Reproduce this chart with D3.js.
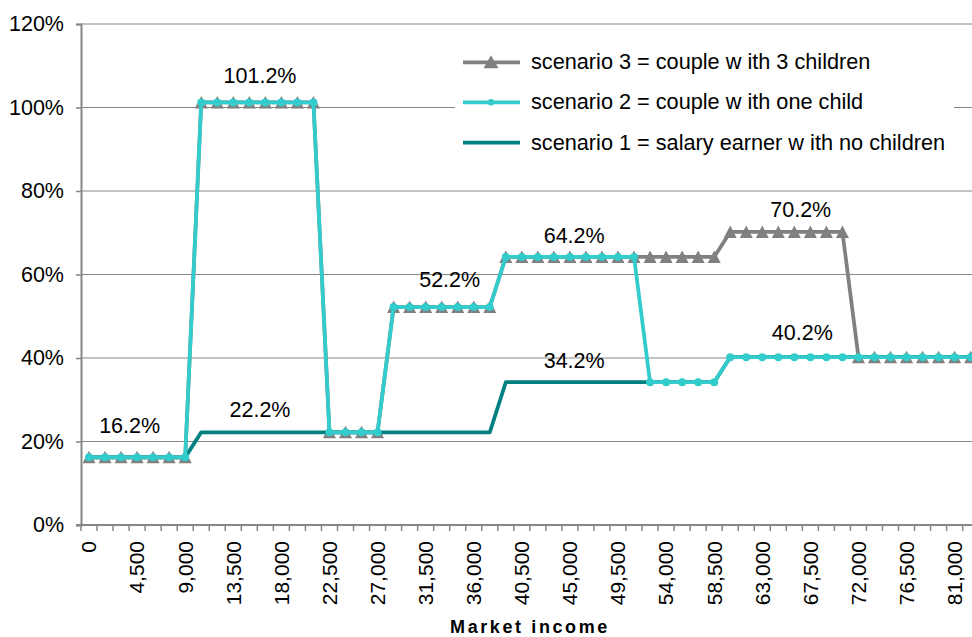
<!DOCTYPE html>
<html>
<head>
<meta charset="utf-8">
<script src="https://cdn.jsdelivr.net/npm/d3@7"></script>
<style>
  html, body { margin: 0; padding: 0; background: #fff; }
  svg { display: block; font-family: "Liberation Sans", Arial, sans-serif; }
</style>
</head>
<body>
<svg id="chart" width="972" height="637"></svg>
<script>
// ---------- DATA ----------
const incomes = [0,1500,3000,4500,6000,7500,9000,10500,12000,13500,15000,16500,18000,19500,21000,22500,24000,25500,27000,28500,30000,31500,33000,34500,36000,37500,39000,40500,42000,43500,45000,46500,48000,49500,51000,52500,54000,55500,57000,58500,60000,61500,63000,64500,66000,67500,69000,70500,72000,73500,75000,76500,78000,79500,81000,82500];

const scenario1 = [16.2,16.2,16.2,16.2,16.2,16.2,16.2,
  22.2,22.2,22.2,22.2,22.2,22.2,22.2,22.2,22.2,22.2,22.2,22.2,22.2,22.2,22.2,22.2,22.2,22.2,22.2,
  34.2,34.2,34.2,34.2,34.2,34.2,34.2,34.2,34.2,34.2,34.2,34.2,34.2,34.2,
  40.2,40.2,40.2,40.2,40.2,40.2,40.2,40.2,40.2,40.2,40.2,40.2,40.2,40.2,40.2,40.2];

const scenario2 = [16.2,16.2,16.2,16.2,16.2,16.2,16.2,
  101.2,101.2,101.2,101.2,101.2,101.2,101.2,101.2,
  22.2,22.2,22.2,22.2,
  52.2,52.2,52.2,52.2,52.2,52.2,52.2,
  64.2,64.2,64.2,64.2,64.2,64.2,64.2,64.2,64.2,
  34.2,34.2,34.2,34.2,34.2,
  40.2,40.2,40.2,40.2,40.2,40.2,40.2,40.2,40.2,40.2,40.2,40.2,40.2,40.2,40.2,40.2];

const scenario3 = [16.2,16.2,16.2,16.2,16.2,16.2,16.2,
  101.2,101.2,101.2,101.2,101.2,101.2,101.2,101.2,
  22.2,22.2,22.2,22.2,
  52.2,52.2,52.2,52.2,52.2,52.2,52.2,
  64.2,64.2,64.2,64.2,64.2,64.2,64.2,64.2,64.2,64.2,64.2,64.2,64.2,64.2,
  70.2,70.2,70.2,70.2,70.2,70.2,70.2,70.2,
  40.2,40.2,40.2,40.2,40.2,40.2,40.2,40.2];

const xTickLabels = ["0","4,500","9,000","13,500","18,000","22,500","27,000","31,500","36,000","40,500","45,000","49,500","54,000","58,500","63,000","67,500","72,000","76,500","81,000"];
const yTicks = [0,20,40,60,80,100,120];

const seriesNames = ["scenario 3 = couple w ith 3 children","scenario 2 = couple w ith one child","scenario 1 = salary earner w ith no children"];

// annotation texts and where they sit (income, percent)
const labelTexts = ["16.2%","101.2%","22.2%","52.2%","64.2%","34.2%","70.2%","40.2%"];
const labelIncome = [3800,16000,16000,33750,45400,45400,66600,66750];
const labelPct = [22.0,105.8,25.9,56.9,67.6,37.5,73.8,44.3];

const xTitle = "Market income";

// ---------- LAYOUT ----------
const svg = d3.select("#chart");
const plotLeft = 81, plotBottom = 525, plotTop = 24;
const bw = 16.03;
const x = d3.scaleBand().domain(incomes).range([plotLeft, plotLeft + incomes.length * bw]).padding(0);
const xPos = d3.scaleLinear()
  .domain([incomes[0], incomes[incomes.length - 1]])
  .range([x(incomes[0]) + x.bandwidth() / 2, x(incomes[incomes.length - 1]) + x.bandwidth() / 2]);
const y = d3.scaleLinear().domain([0, 120]).range([plotBottom, plotTop]);
const plotRight = plotLeft + incomes.length * bw;

const gridColor = "#868686";
const fontSize = 21;

// gridlines
svg.append("g").selectAll("line").data(yTicks.filter(d => d > 0)).join("line")
  .attr("x1", plotLeft).attr("x2", plotRight)
  .attr("y1", d => y(d)).attr("y2", d => y(d))
  .attr("stroke", gridColor).attr("stroke-width", 1);

// legend background (covers gridline)
const legendG = svg.append("g");
legendG.append("rect").attr("x", 455).attr("y", 38).attr("width", 499).attr("height", 130).attr("fill", "#fff");

// y axis
const yAxis = d3.axisLeft(y).tickValues(yTicks).tickFormat(d => d + "%").tickSize(5).tickPadding(12);
const yg = svg.append("g").attr("transform", `translate(${plotLeft},0)`).call(yAxis);
yg.select(".domain").attr("stroke", gridColor).attr("stroke-width", 2);
yg.selectAll(".tick line").attr("stroke", gridColor).attr("stroke-width", 1.5);
yg.selectAll(".tick text").attr("font-size", 21.5).attr("font-family", "Liberation Sans, Arial, sans-serif").attr("fill", "#000");

// x axis line and ticks at band boundaries
svg.append("line").attr("x1", plotLeft - 5).attr("x2", plotRight).attr("y1", plotBottom).attr("y2", plotBottom)
  .attr("stroke", gridColor).attr("stroke-width", 2);
svg.append("g").selectAll("line").data(incomes.concat([null])).join("line")
  .attr("x1", (d, i) => plotLeft + i * x.bandwidth()).attr("x2", (d, i) => plotLeft + i * x.bandwidth())
  .attr("y1", plotBottom).attr("y2", plotBottom + 6)
  .attr("stroke", gridColor).attr("stroke-width", 1.5);

// x tick labels
const labelled = incomes.filter(v => xTickLabels.includes(d3.format(",")(v)));
svg.append("g").selectAll("text").data(labelled).join("text")
  .attr("transform", d => `translate(${x(d) + x.bandwidth() / 2},541) rotate(-90)`)
  .attr("text-anchor", "end").attr("dy", "0.35em")
  .attr("font-size", fontSize).attr("fill", "#000")
  .text(d => d3.format(",")(d));

// x title
svg.append("text").attr("x", 530).attr("y", 633).attr("text-anchor", "middle")
  .attr("font-size", 18).attr("font-weight", "bold").attr("letter-spacing", "2.6px")
  .attr("fill", "#000").text(xTitle);

// ---------- SERIES ----------
const line = d3.line().x((d, i) => xPos(incomes[i])).y(d => y(d));
const triPath = (cx, cy, hw, up, down) => `M${cx},${cy - up}L${cx + hw},${cy + down}L${cx - hw},${cy + down}Z`;

const c3 = "#808080", c2 = "#33CCCC", c1 = "#008080";

// scenario 3 (gray, triangles)
svg.append("path").datum(scenario3).attr("d", line).attr("fill", "none")
  .attr("stroke", c3).attr("stroke-width", 3.75).attr("stroke-linejoin", "round");
svg.append("g").selectAll("path").data(scenario3).join("path")
  .attr("d", (d, i) => triPath(xPos(incomes[i]), y(d), 6.5, 6.5, 6))
  .attr("fill", c3);

// scenario 1 (teal, plain line)
svg.append("path").datum(scenario1).attr("d", line).attr("fill", "none")
  .attr("stroke", c1).attr("stroke-width", 3.75).attr("stroke-linejoin", "round");

// scenario 2 (turquoise, circles)
svg.append("path").datum(scenario2).attr("d", line).attr("fill", "none")
  .attr("stroke", c2).attr("stroke-width", 3.75).attr("stroke-linejoin", "round");
svg.append("g").selectAll("circle").data(scenario2).join("circle")
  .attr("cx", (d, i) => xPos(incomes[i])).attr("cy", d => y(d)).attr("r", 4)
  .attr("fill", c2);

// annotations
svg.append("g").selectAll("text").data(labelTexts).join("text")
  .attr("x", (d, i) => xPos(labelIncome[i])).attr("y", (d, i) => y(labelPct[i]))
  .attr("text-anchor", "middle").attr("font-size", 21.5).attr("fill", "#000")
  .text(d => d);

// ---------- LEGEND ----------
const legColors = [c3, c2, c1];
const legY = [62.3, 102.3, 142.5];
seriesNames.forEach((name, i) => {
  const g = legendG.append("g");
  g.append("line").attr("x1", 463).attr("x2", 520).attr("y1", legY[i]).attr("y2", legY[i])
    .attr("stroke", legColors[i]).attr("stroke-width", 3.75);
  if (i === 0) g.append("path").attr("d", triPath(491, legY[i], 7.5, 7, 6)).attr("fill", c3);
  if (i === 1) g.append("circle").attr("cx", 491).attr("cy", legY[i]).attr("r", 3.3).attr("fill", c2);
  g.append("text").attr("x", 531).attr("y", legY[i]).attr("dy", "0.33em")
    .attr("font-size", 21.7).attr("fill", "#000").text(name);
});
</script>
</body>
</html>
